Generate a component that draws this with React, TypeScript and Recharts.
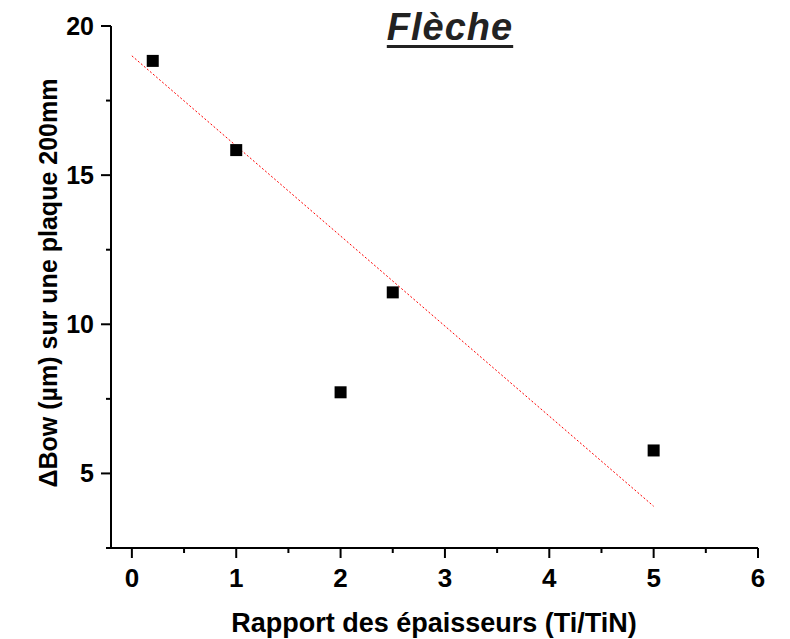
import { Label, Scatter, ScatterChart, XAxis, YAxis } from 'recharts'

// measured points
const ratio = [0.2, 1, 2, 2.5, 5]
const bow = [18.83, 15.84, 7.72, 11.07, 5.77]

// red dotted fit line ends
const fitRatio = [0, 5]
const fitBow = [19.0, 3.9]

const xTicks = [0, 0.5, 1, 1.5, 2, 2.5, 3, 3.5, 4, 4.5, 5, 5.5, 6]
const yTicks = [2.5, 5, 7.5, 10, 12.5, 15, 17.5, 20]

const FONT = "'Liberation Sans', Arial, Helvetica, sans-serif"

const points = ratio.map((x, i) => ({ x, y: bow[i] }))
const fit = fitRatio.map((x, i) => ({ x, y: fitBow[i] }))

const XTick = (props: any) => {
  const { x, y, payload } = props
  const major = Number.isInteger(payload.value)
  return (
    <g>
      <line x1={x} x2={x} y1={y} y2={y + (major ? 10 : 5)} stroke="#000" strokeWidth={2} />
      {major && (
        <text x={x} y={y + 39} textAnchor="middle" fontFamily={FONT} fontWeight="bold" fontSize={26} fill="#000">
          {payload.value}
        </text>
      )}
    </g>
  )
}

const YTick = (props: any) => {
  const { x, y, payload } = props
  const major = Number.isInteger(payload.value)
  return (
    <g>
      <line x1={x} x2={x - (major ? 10 : 5)} y1={y} y2={y} stroke="#000" strokeWidth={2} />
      {major && (
        <text x={x - 17} y={y + 9} textAnchor="end" fontFamily={FONT} fontWeight="bold" fontSize={25} fill="#000">
          {payload.value}
        </text>
      )}
    </g>
  )
}

const Square = (props: any) => {
  const { cx, cy } = props
  return <rect x={cx - 6} y={cy - 6} width={12} height={12} fill="#000" />
}

const NoDot = () => <g />

export default function App() {
  return (
    <div style={{ position: 'absolute', left: 0, top: 0, width: 790, height: 639, background: '#fff' }}>
      <ScatterChart width={790} height={639} margin={{ top: 26, right: 32, bottom: 0, left: 0 }}>
        <XAxis
          type="number"
          dataKey="x"
          domain={[-0.2, 6]}
          ticks={xTicks}
          interval={0}
          allowDataOverflow
          height={91}
          tickSize={0}
          tickMargin={0}
          tickLine={false}
          axisLine={{ stroke: '#000', strokeWidth: 2 }}
          tick={<XTick />}
        >
          <Label
            content={() => (
              <text x={434} y={632} textAnchor="middle" fontFamily={FONT} fontWeight="bold" fontSize={27} fill="#000">
                Rapport des épaisseurs (Ti/TiN)
              </text>
            )}
          />
        </XAxis>
        <YAxis
          type="number"
          dataKey="y"
          domain={[2.5, 20]}
          ticks={yTicks}
          interval={0}
          allowDataOverflow
          width={111}
          tickSize={0}
          tickMargin={0}
          tickLine={false}
          axisLine={{ stroke: '#000', strokeWidth: 2 }}
          tick={<YTick />}
        >
          <Label
            content={() => (
              <text
                x={57}
                y={283}
                transform="rotate(-90, 57, 283)"
                textAnchor="middle"
                fontFamily={FONT}
                fontWeight="bold"
                fontSize={25}
                fill="#000"
              >
                ΔBow (µm) sur une plaque 200mm
              </text>
            )}
          />
        </YAxis>
        <Scatter
          data={fit}
          line={{ stroke: '#ff0000', strokeWidth: 1, strokeDasharray: '2 2' }}
          shape={<NoDot />}
          isAnimationActive={false}
        />
        <Scatter data={points} shape={<Square />} isAnimationActive={false} />
      </ScatterChart>
      <div
        style={{
          position: 'absolute',
          left: 350,
          top: 8,
          width: 200,
          textAlign: 'center',
          fontFamily: FONT,
          fontWeight: 'bold',
          fontStyle: 'italic',
          fontSize: 38,
          lineHeight: '38px',
          letterSpacing: 1,
          color: '#222',
          textDecoration: 'underline',
          textDecorationThickness: 3,
          textUnderlineOffset: 5,
        }}
      >
        Flèche
      </div>
    </div>
  )
}
